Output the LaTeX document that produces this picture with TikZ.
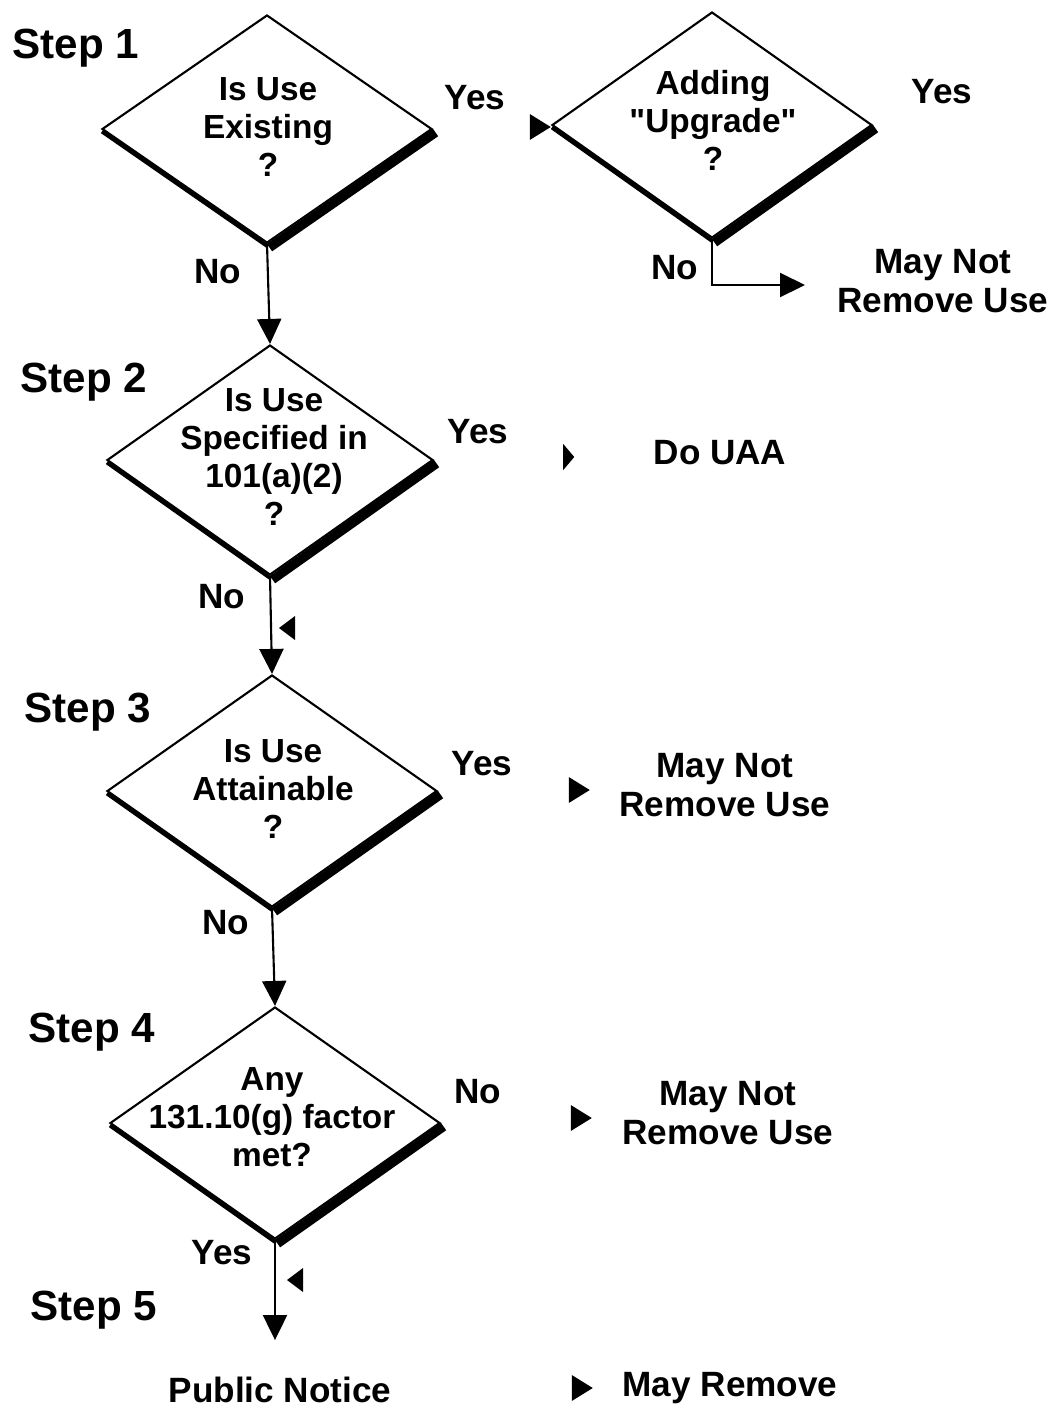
\documentclass[tikz,border=0pt]{standalone}
\usepackage{fontspec}
\setmainfont{Liberation Sans}[Ligatures=TeXOff]
\usetikzlibrary{shapes.geometric,arrows.meta}
\tikzset{
  decision/.style={diamond, draw, line width=0.6pt, inner sep=0pt},
  qtext/.style={font=\bfseries\fontsize{9.5}{10.8}\selectfont, align=center},
  lbl/.style={font=\bfseries\fontsize{10}{11}\selectfont, align=center},
  steplbl/.style={font=\bfseries\fontsize{12}{14}\selectfont},
  arr/.style={line width=0.6pt, -{Triangle[length=0.25cm, width=0.24cm]}},
  tipmark/.style={isosceles triangle, isosceles triangle stretches, fill,
    inner sep=0pt, minimum height=0.21cm, minimum width=0.26cm}
}
\begin{document}
\begin{tikzpicture}
  \useasboundingbox (0,0) rectangle (10.59,-14.11);
  % decisions
  \node[decision, minimum width=3.3cm, minimum height=2.28cm] (q1) at (2.67,-1.29) {};
  \node[decision, minimum width=3.2cm, minimum height=2.26cm] (q2) at (7.12,-1.25) {};
  \node[decision, minimum width=3.26cm, minimum height=2.3cm] (q3) at (2.70,-4.60) {};
  \node[decision, minimum width=3.3cm, minimum height=2.32cm] (q4) at (2.72,-7.91) {};
  \node[decision, minimum width=3.3cm, minimum height=2.32cm] (q5) at (2.75,-11.23) {};
  \foreach \d in {q1,q2,q3,q4,q5} {
    \draw[line width=1.1pt] ([shift={(0.01,-0.025)}]\d.west) -- ([shift={(0.01,-0.025)}]\d.south);
    \draw[line width=2.6pt] ([shift={(0.025,-0.035)}]\d.south) -- ([shift={(0.025,-0.035)}]\d.east);
  }
  \node[qtext] (q1t) at (2.68,-1.27) {Is Use\\Existing\\?};
  \node[qtext] (q2t) at (7.13,-1.20) {Adding\\"Upgrade"\\?};
  \node[qtext] (q3t) at (2.74,-4.57) {Is Use\\Specified in\\101(a)(2)\\?};
  \node[qtext] (q4t) at (2.73,-7.89) {Is Use\\Attainable\\?};
  \node[qtext] (q5t) at (2.72,-11.17) {Any\\131.10(g) factor\\met?};
  % step labels
  \node[steplbl] (s1) at (0.76,-0.48) {Step 1};
  \node[steplbl] (s2) at (0.84,-3.82) {Step 2};
  \node[steplbl] (s3) at (0.88,-7.12) {Step 3};
  \node[steplbl] (s4) at (0.92,-10.32) {Step 4};
  \node[steplbl] (s5) at (0.94,-13.10) {Step 5};
  % outcomes
  \node[lbl] (r1) at (9.43,-2.81) {May Not\\Remove Use};
  \node[lbl] (r2) at (7.20,-4.53) {Do UAA};
  \node[lbl] (r3) at (7.25,-7.85) {May Not\\Remove Use};
  \node[lbl] (r4) at (7.28,-11.13) {May Not\\Remove Use};
  \node[lbl] (pn) at (2.80,-13.90) {Public Notice};
  \node[lbl] (r5) at (7.30,-13.88) {May Remove};
  % yes / no
  \node[lbl] (y1) at (4.75,-0.98) {Yes};
  \node[lbl] (y2) at (9.42,-0.92) {Yes};
  \node[lbl] (y3) at (4.78,-4.32) {Yes};
  \node[lbl] (y4) at (4.82,-7.64) {Yes};
  \node[lbl] (y5) at (2.22,-12.53) {Yes};
  \node[lbl] (n1) at (2.18,-2.72) {No};
  \node[lbl] (n2) at (6.75,-2.68) {No};
  \node[lbl] (n3) at (2.22,-5.97) {No};
  \node[lbl] (n4) at (2.26,-9.23) {No};
  \node[lbl] (n5) at (4.78,-10.92) {No};
  % connectors
  \coordinate (e1) at (8.05,-2.85);
  \draw[arr] (q1.south) -- (q3.north);
  \draw[arr] (q3.south) -- (q4.north);
  \draw[arr] (q4.south) -- (q5.north);
  \draw[arr] (q5.south) -- ++(0,-1.0) coordinate (e2);
  \draw[arr] (q2.south) |- (e1);
  % loose arrow tips
  \node[tipmark] (t1) at (5.37,-1.27) {};
  \node[tipmark, minimum height=0.11cm, minimum width=0.26cm] (t2) at (5.68,-4.57) {};
  \node[tipmark] (t3) at (5.76,-7.90) {};
  \node[tipmark] (t4) at (5.78,-11.18) {};
  \node[tipmark] (t5) at (5.79,-13.88) {};
  \node[tipmark, shape border rotate=180, minimum height=0.16cm, minimum width=0.24cm] (t6) at (2.89,-6.28) {};
  \node[tipmark, shape border rotate=180, minimum height=0.16cm, minimum width=0.24cm] (t7) at (2.97,-12.80) {};
\end{tikzpicture}
\end{document}
